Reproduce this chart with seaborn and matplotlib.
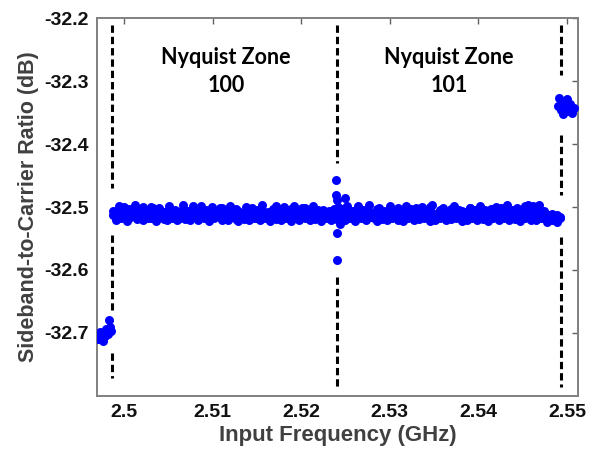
import matplotlib
matplotlib.use("Agg")
import matplotlib.pyplot as plt
import seaborn as sns
import pandas as pd

# ---- data ----
zone100_freq = [2.4988, 2.4991, 2.4994, 2.4997, 2.5000, 2.5003, 2.5006, 2.5009, 2.5012, 2.5015,
                2.5018, 2.5021, 2.5024, 2.5027, 2.5030, 2.5033, 2.5036, 2.5039, 2.5042, 2.5045,
                2.5048, 2.5051, 2.5054, 2.5057, 2.5060, 2.5063, 2.5066, 2.5069, 2.5072, 2.5075,
                2.5078, 2.5081, 2.5084, 2.5087, 2.5090, 2.5093, 2.5096, 2.5099, 2.5102, 2.5105,
                2.5108, 2.5111, 2.5114, 2.5117, 2.5120, 2.5123, 2.5126, 2.5129, 2.5132, 2.5135,
                2.5138, 2.5141, 2.5144, 2.5147, 2.5150, 2.5153, 2.5156, 2.5159, 2.5162, 2.5165,
                2.5168, 2.5171, 2.5174, 2.5177, 2.5180, 2.5183, 2.5186, 2.5189, 2.5192, 2.5195,
                2.5198, 2.5201, 2.5204, 2.5207, 2.5210, 2.5213, 2.5216, 2.5219, 2.5222, 2.5225,
                2.5228, 2.5231, 2.5234, 2.5237]
zone100_run1 = [-32.512, -32.516, -32.508, -32.514, -32.500, -32.510, -32.518, -32.506, -32.512, -32.515,
                -32.504, -32.500, -32.513, -32.509, -32.517, -32.501, -32.511, -32.514, -32.507, -32.519,
                -32.510, -32.505, -32.516, -32.512, -32.508, -32.518, -32.503, -32.513, -32.509, -32.515,
                -32.499, -32.511, -32.516, -32.507, -32.513, -32.510, -32.518, -32.505, -32.512, -32.509,
                -32.514, -32.502, -32.510, -32.516, -32.508, -32.513, -32.519, -32.506, -32.511, -32.515,
                -32.500, -32.509, -32.513, -32.507, -32.517, -32.511, -32.504, -32.514, -32.508, -32.516,
                -32.510, -32.499, -32.512, -32.506, -32.515, -32.509, -32.513, -32.503, -32.517, -32.511,
                -32.507, -32.514, -32.501, -32.510, -32.516, -32.508, -32.512, -32.505, -32.518, -32.511,
                -32.509, -32.514, -32.506, -32.513]
zone100_run2 = [-32.506, -32.520, -32.498, -32.517, -32.509, -32.522, -32.503, -32.515, -32.497, -32.519,
                -32.511, -32.521, -32.505, -32.518, -32.500, -32.514, -32.522, -32.502, -32.516, -32.508,
                -32.521, -32.499, -32.517, -32.504, -32.520, -32.510, -32.497, -32.519, -32.506, -32.521,
                -32.512, -32.503, -32.520, -32.498, -32.517, -32.505, -32.522, -32.500, -32.518, -32.514,
                -32.502, -32.520, -32.507, -32.521, -32.499, -32.516, -32.503, -32.522, -32.509, -32.519,
                -32.506, -32.521, -32.501, -32.518, -32.504, -32.520, -32.497, -32.517, -32.511, -32.522,
                -32.503, -32.519, -32.507, -32.521, -32.500, -32.518, -32.505, -32.522, -32.498, -32.516,
                -32.520, -32.502, -32.517, -32.508, -32.521, -32.499, -32.519, -32.510, -32.522, -32.504,
                -32.518, -32.507, -32.521, -32.503]

zone101_freq = [2.5243, 2.5246, 2.5249, 2.5252, 2.5255, 2.5258, 2.5261, 2.5264, 2.5267, 2.5270,
                2.5273, 2.5276, 2.5279, 2.5282, 2.5285, 2.5288, 2.5291, 2.5294, 2.5297, 2.5300,
                2.5303, 2.5306, 2.5309, 2.5312, 2.5315, 2.5318, 2.5321, 2.5324, 2.5327, 2.5330,
                2.5333, 2.5336, 2.5339, 2.5342, 2.5345, 2.5348, 2.5351, 2.5354, 2.5357, 2.5360,
                2.5363, 2.5366, 2.5369, 2.5372, 2.5375, 2.5378, 2.5381, 2.5384, 2.5387, 2.5390,
                2.5393, 2.5396, 2.5399, 2.5402, 2.5405, 2.5408, 2.5411, 2.5414, 2.5417, 2.5420,
                2.5423, 2.5426, 2.5429, 2.5432, 2.5435, 2.5438, 2.5441, 2.5444, 2.5447, 2.5450,
                2.5453, 2.5456, 2.5459, 2.5462, 2.5465, 2.5468, 2.5471, 2.5474, 2.5477, 2.5480,
                2.5483, 2.5486, 2.5489, 2.5492]
zone101_run1 = [-32.508, -32.513, -32.502, -32.511, -32.516, -32.506, -32.512, -32.499, -32.510, -32.515,
                -32.507, -32.513, -32.509, -32.517, -32.503, -32.511, -32.514, -32.508, -32.512, -32.505,
                -32.516, -32.510, -32.501, -32.513, -32.508, -32.518, -32.506, -32.511, -32.514, -32.502,
                -32.510, -32.515, -32.507, -32.512, -32.500, -32.509, -32.516, -32.511, -32.505, -32.513,
                -32.508, -32.517, -32.503, -32.511, -32.514, -32.509, -32.506, -32.512, -32.516, -32.501,
                -32.510, -32.513, -32.507, -32.515, -32.509, -32.504, -32.512, -32.518, -32.508, -32.511,
                -32.514, -32.502, -32.510, -32.516, -32.507, -32.512, -32.509, -32.515, -32.505, -32.511,
                -32.498, -32.513, -32.508, -32.499, -32.514, -32.510, -32.517, -32.506, -32.512, -32.519,
                -32.511, -32.515, -32.513, -32.517]
zone101_run2 = [-32.519, -32.503, -32.521, -32.498, -32.517, -32.507, -32.522, -32.500, -32.518, -32.505,
                -32.520, -32.497, -32.516, -32.509, -32.522, -32.502, -32.519, -32.506, -32.521, -32.499,
                -32.517, -32.504, -32.520, -32.511, -32.522, -32.498, -32.518, -32.503, -32.521, -32.508,
                -32.519, -32.500, -32.517, -32.505, -32.522, -32.497, -32.520, -32.510, -32.518, -32.502,
                -32.521, -32.506, -32.519, -32.499, -32.517, -32.504, -32.522, -32.508, -32.520, -32.501,
                -32.518, -32.505, -32.521, -32.498, -32.519, -32.507, -32.522, -32.503, -32.517, -32.500,
                -32.520, -32.509, -32.518, -32.497, -32.521, -32.504, -32.519, -32.501, -32.522, -32.506,
                -32.517, -32.496, -32.520, -32.503, -32.521, -32.497, -32.518, -32.508, -32.523, -32.512,
                -32.520, -32.514, -32.523, -32.516]

boundary_freq = [2.5238, 2.5239, 2.5239, 2.5240, 2.5240, 2.5240, 2.5241, 2.5241, 2.5242, 2.5249, 2.5244]
boundary_scr = [-32.505, -32.457, -32.481, -32.489, -32.541, -32.584, -32.520, -32.500, -32.512, -32.486, -32.527]

zone99_freq = [2.4970, 2.4971, 2.4973, 2.4974, 2.4976, 2.4977, 2.4979, 2.4980, 2.4982, 2.4983, 2.4984, 2.4985]
zone99_scr = [-32.703, -32.710, -32.698, -32.707, -32.712, -32.700, -32.705, -32.694, -32.701, -32.680, -32.690, -32.697]

zone102_freq = [2.5490, 2.5491, 2.5493, 2.5494, 2.5496, 2.5497, 2.5499, 2.5500, 2.5502, 2.5503, 2.5505, 2.5506, 2.5508]
zone102_scr = [-32.340, -32.327, -32.346, -32.333, -32.352, -32.338, -32.343, -32.329, -32.348, -32.336, -32.341, -32.350, -32.342]

# zone boundaries (GHz) and the y-extent of each dashed piece
boundary_lines = [
    (2.4986, [(-32.211, -32.470), (-32.544, -32.663), (-32.732, -32.771)]),
    (2.5240, [(-32.211, -32.430), (-32.611, -32.790)]),
    (2.54929, [(-32.211, -32.290), (-32.386, -32.481), (-32.548, -32.786)]),
]

zone_labels = ["Nyquist Zone\n100", "Nyquist Zone\n101"]
zone_label_x = [2.5115, 2.5367]

x_ticks = [2.50, 2.51, 2.52, 2.53, 2.54, 2.55]
x_ticklabels = ["2.5", "2.51", "2.52", "2.53", "2.54", "2.55"]
y_ticks = [-32.7, -32.6, -32.5, -32.4, -32.3, -32.2]
y_ticklabels = ["-32.7", "-32.6", "-32.5", "-32.4", "-32.3", "-32.2"]

df = pd.DataFrame({
    "freq": zone99_freq + zone100_freq + zone100_freq + boundary_freq
            + zone101_freq + zone101_freq + zone102_freq,
    "scr": zone99_scr + zone100_run1 + zone100_run2 + boundary_scr
           + zone101_run1 + zone101_run2 + zone102_scr,
})

# ---- plot ----
sns.set_theme(style="white")
plt.rcParams["font.family"] = ["Liberation Sans", "DejaVu Sans"]

fig = plt.figure(figsize=(5.99, 4.53), dpi=100)
ax = fig.add_axes([0.162, 0.126, 0.803, 0.834])

sns.scatterplot(data=df, x="freq", y="scr", ax=ax, color="#0000FF",
                s=42, linewidth=0, marker="o", zorder=3)

for xv, segs in boundary_lines:
    for y0, y1 in segs:
        ax.plot([xv, xv], [y0, y1], color="black", lw=2.2,
                linestyle=(0, (2.4, 1.3)), zorder=2)

for txt, xv in zip(zone_labels, zone_label_x):
    ax.text(xv, -32.285, txt, ha="center", va="center", fontsize=15.5,
            fontweight="bold", family=["Lato", "DejaVu Sans"], color="black",
            linespacing=1.45)

ax.set_xlim(2.49695, 2.55125)
ax.set_ylim(-32.8, -32.2)
ax.set_xticks(x_ticks)
ax.set_xticklabels(x_ticklabels)
ax.set_yticks(y_ticks)
ax.set_yticklabels(y_ticklabels)

ax.tick_params(axis="both", which="both", direction="in", length=4, width=1,
               color="#606060", labelsize=14, top=True, right=True, pad=6)
for lbl in ax.get_xticklabels() + ax.get_yticklabels():
    lbl.set_fontweight("bold")
    lbl.set_color("#111111")

for sp in ax.spines.values():
    sp.set_color("#808080")
    sp.set_linewidth(1.4)
    sp.set_visible(True)

ax.set_xlabel("Input Frequency (GHz)", fontsize=16, fontweight="bold",
              color="#404040", labelpad=3)
ax.set_ylabel("Sideband-to-Carrier Ratio (dB)", fontsize=15.5, fontweight="bold",
              color="#404040", labelpad=4)

fig.savefig("out.png", dpi=100)
